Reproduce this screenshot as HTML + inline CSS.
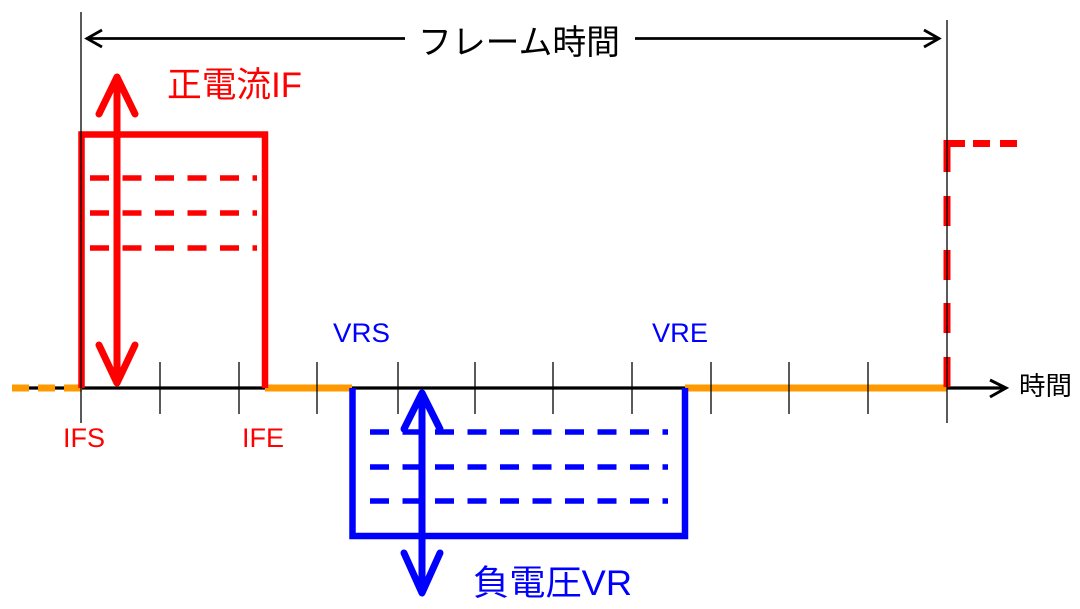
<!DOCTYPE html>
<html><head><meta charset="utf-8"><style>
html,body{margin:0;padding:0;background:#fff;width:1080px;height:609px;overflow:hidden}
svg{display:block}
</style></head><body>
<svg width="1080" height="609" viewBox="0 0 1080 609" xmlns="http://www.w3.org/2000/svg">
<rect width="1080" height="609" fill="#fff"/>
<!-- axis -->
<line x1="12" y1="388" x2="1005" y2="388" stroke="#000" stroke-width="3.2"/>
<polyline points="990,380 1006,388 990,397" fill="none" stroke="#000" stroke-width="3"/>
<!-- orange segments -->
<g stroke="#FF9900" stroke-width="7">
<line x1="12" y1="388" x2="29" y2="388"/>
<line x1="38" y1="388" x2="55" y2="388"/>
<line x1="64" y1="388" x2="82" y2="388"/>
<line x1="265" y1="388" x2="352" y2="388"/>
<line x1="685" y1="388" x2="947" y2="388"/>
</g>
<!-- red rectangle -->
<path d="M81.5,388 V134.5 H265 V388" fill="none" stroke="#FF0000" stroke-width="6.5"/>
<g stroke="#FF0000" stroke-width="5.5" stroke-dasharray="19 13.5">
<line x1="90" y1="178" x2="257" y2="178"/>
<line x1="90" y1="213" x2="257" y2="213"/>
<line x1="90" y1="248" x2="257" y2="248"/>
</g>
<!-- blue rectangle -->
<path d="M352.5,388 V536 H685 V388" fill="none" stroke="#0000FF" stroke-width="6.5"/>
<g stroke="#0000FF" stroke-width="5.5" stroke-dasharray="19 13.5">
<line x1="370" y1="432" x2="668" y2="432"/>
<line x1="370" y1="467" x2="668" y2="467"/>
<line x1="370" y1="501" x2="668" y2="501"/>
</g>
<!-- red double arrow -->
<g stroke="#FF0000" stroke-width="7" fill="none" stroke-linecap="round" stroke-linejoin="round">
<line x1="117" y1="79" x2="117" y2="381"/>
<polyline points="99,114 117,77 135,114"/>
<polyline points="99,345 117,383 135,345"/>
</g>
<!-- blue double arrow -->
<g stroke="#0000FF" stroke-width="7" fill="none" stroke-linecap="round" stroke-linejoin="round">
<line x1="422" y1="395" x2="422" y2="591"/>
<polyline points="404,429 422,393 440,429"/>
<polyline points="404,553 422,593 440,553"/>
</g>
<!-- right red dashed -->
<g fill="#FF0000">
<rect x="943.5" y="357" width="7" height="30"/>
<rect x="943.5" y="303" width="7" height="30"/>
<rect x="943.5" y="250" width="7" height="30"/>
<rect x="943.5" y="196" width="7" height="30"/>
<rect x="943.5" y="141" width="7" height="31"/>
<rect x="943.5" y="140" width="21.5" height="7"/>
<rect x="973" y="140" width="17" height="7"/>
<rect x="1000" y="140" width="17" height="7"/>
</g>
<!-- thin verticals and ticks -->
<g stroke="#000" stroke-width="1.3">
<line x1="81" y1="12" x2="81" y2="423"/>
<line x1="947" y1="20" x2="947" y2="423"/>
<line x1="160" y1="362" x2="160" y2="414"/>
<line x1="239" y1="362" x2="239" y2="414"/>
<line x1="317" y1="362" x2="317" y2="414"/>
<line x1="398" y1="362" x2="398" y2="414"/>
<line x1="475" y1="362" x2="475" y2="414"/>
<line x1="553" y1="362" x2="553" y2="414"/>
<line x1="632" y1="362" x2="632" y2="414"/>
<line x1="711" y1="362" x2="711" y2="414"/>
<line x1="789" y1="362" x2="789" y2="414"/>
<line x1="868" y1="362" x2="868" y2="414"/>
</g>
<!-- frame time arrow -->
<g stroke="#000" stroke-width="2.8" fill="none">
<line x1="87" y1="38.5" x2="405" y2="38.5"/>
<line x1="635" y1="38.5" x2="939" y2="38.5"/>
<polyline points="102,30 87,38.5 102,47"/>
<polyline points="924,30 939,38.5 924,47"/>
</g>
<!-- texts -->
<g font-family="'Liberation Sans','Noto Sans CJK JP',sans-serif">
<text x="418" y="54" font-size="34" fill="#000" textLength="202" lengthAdjust="spacingAndGlyphs">フレーム時間</text>
<text x="167" y="97" font-size="35" fill="#FF0000" textLength="135" lengthAdjust="spacingAndGlyphs">正電流IF</text>
<text x="473" y="595" font-size="35" fill="#0000FF" textLength="159" lengthAdjust="spacingAndGlyphs">負電圧VR</text>
<text x="1019" y="395" font-size="26" fill="#000" textLength="53" lengthAdjust="spacingAndGlyphs">時間</text>
<text x="63" y="447" font-size="27" fill="#FF0000" textLength="42" lengthAdjust="spacingAndGlyphs">IFS</text>
<text x="242" y="447" font-size="27" fill="#FF0000" textLength="42" lengthAdjust="spacingAndGlyphs">IFE</text>
<text x="333" y="342" font-size="27" fill="#0000FF" textLength="57" lengthAdjust="spacingAndGlyphs">VRS</text>
<text x="652" y="342" font-size="27" fill="#0000FF" textLength="56" lengthAdjust="spacingAndGlyphs">VRE</text>
</g>
</svg>
</body></html>
